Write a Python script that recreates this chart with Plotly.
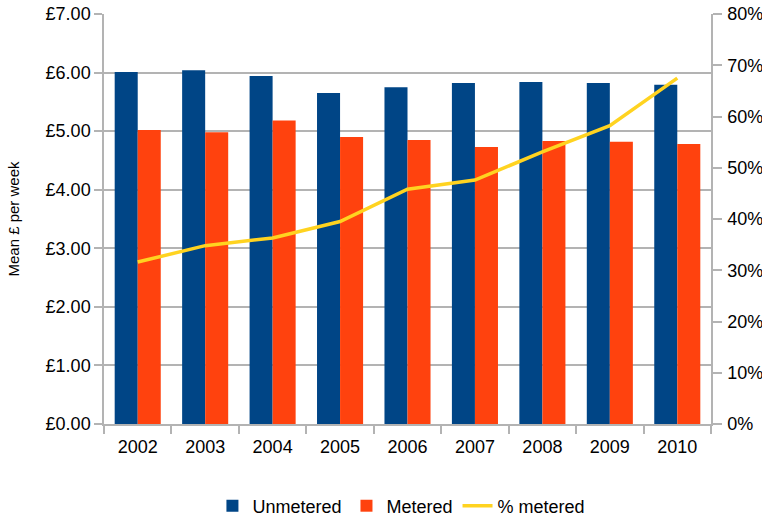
import plotly.graph_objects as go

years = ["2002", "2003", "2004", "2005", "2006", "2007", "2008", "2009", "2010"]
unmetered = [6.01, 6.04, 5.94, 5.65, 5.75, 5.82, 5.84, 5.82, 5.79]
metered = [5.02, 4.98, 5.18, 4.90, 4.85, 4.73, 4.83, 4.82, 4.78]
pct_metered = [31.6, 34.8, 36.3, 39.5, 45.8, 47.6, 53.1, 58.2, 67.5]

FONT = "Liberation Sans, Arial, sans-serif"
GRID = "#b3b3b3"

fig = go.Figure()
fig.add_trace(go.Bar(x=years, y=unmetered, name="Unmetered", marker=dict(color="#004586", line=dict(width=0))))
fig.add_trace(go.Bar(x=years, y=metered, name="Metered", marker=dict(color="#ff420e", line=dict(width=0))))
fig.add_trace(go.Scatter(x=years, y=pct_metered, name="% metered", mode="lines",
                         line=dict(color="#ffd320", width=3.5), yaxis="y2"))

fig.update_layout(
    width=762, height=517,
    margin=dict(l=104, r=51, t=14, b=93, autoexpand=False),
    paper_bgcolor="white", plot_bgcolor="white",
    font=dict(family=FONT, size=18, color="#000000"),
    barmode="group", bargap=0.317, bargroupgap=0,
    showlegend=True,
    legend=dict(orientation="h", x=0.49, xanchor="center", y=-0.2, yanchor="middle",
                font=dict(size=18), itemwidth=30, traceorder="normal"),
    xaxis=dict(type="category", showgrid=False, showline=True, linecolor=GRID, linewidth=1.5,
               ticks="outside", tickson="boundaries", ticklen=8, tickcolor=GRID, tickwidth=1.5,
               tickfont=dict(size=18), automargin=False, ticklabelstandoff=6),
    yaxis=dict(range=[0, 7], dtick=1, tickprefix="£", tickformat=".2f",
               showgrid=True, gridcolor=GRID, gridwidth=1.5, zeroline=False,
               showline=True, linecolor=GRID, linewidth=1.5,
               ticks="outside", ticklen=8, tickcolor=GRID, tickwidth=1.5,
               tickfont=dict(size=18), automargin=False, ticklabeloverflow="allow",
               title=dict(text="Mean £ per week", font=dict(size=15), standoff=22)),
    yaxis2=dict(range=[0, 80], dtick=10, ticksuffix="%", overlaying="y", side="right",
                showgrid=False, zeroline=False, showline=True, linecolor=GRID, linewidth=1.5,
                ticks="outside", ticklen=9, tickcolor=GRID, tickwidth=1.5,
                tickfont=dict(size=18), automargin=False, ticklabeloverflow="allow",
                ticklabelstandoff=2),
)

fig.write_html("out.html", config={"displayModeBar": False},
               post_script="document.body.style.margin='0';")
